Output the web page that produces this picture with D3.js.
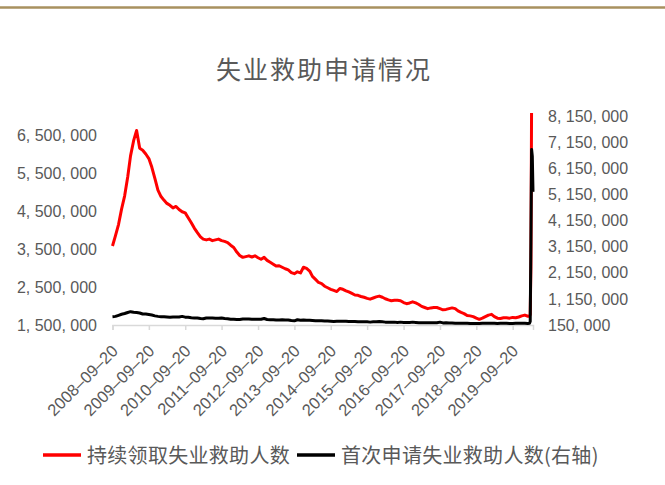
<!DOCTYPE html>
<html>
<head>
<meta charset="utf-8">
<script src="https://cdn.jsdelivr.net/npm/d3@7"></script>
<style>
  body { margin: 0; background: #fff; }
  text { fill: #595959; }
</style>
</head>
<body>
<script>
// monthly readings (20th of each month, from 2008-09-20), thousands of people
const startMonth = "2008-09-20";
const continuedClaims = [
  3580, 3850, 4150, 4550,
  4900, 5400, 5950, 6350, 6620, 6150, 6100, 6000, 5880, 5650, 5350, 5050,
  4880, 4780, 4700, 4650, 4580, 4620, 4540, 4480, 4450, 4320, 4190, 4050,
  3930, 3820, 3760, 3740, 3760, 3720, 3740, 3760, 3720, 3700, 3670, 3600,
  3540, 3420, 3330, 3280, 3300, 3320, 3290, 3320, 3270, 3230, 3280, 3200,
  3150, 3100, 3050, 3060, 3020, 2980, 2950, 2880, 2850, 2900, 2870, 3020,
  2990, 2920, 2780, 2700, 2620, 2590, 2520, 2480, 2440, 2410, 2380, 2460,
  2440, 2400, 2370, 2330, 2290, 2280, 2250, 2230, 2200, 2180, 2210, 2240,
  2260, 2230, 2190, 2160, 2140, 2150, 2150, 2140, 2090, 2060, 2080, 2110,
  2080, 2040, 1990, 1960, 1930, 1950, 1960, 1960, 1930, 1900, 1910, 1930,
  1950, 1930, 1870, 1830, 1800, 1750, 1740, 1720, 1680, 1650, 1680, 1720,
  1760, 1780, 1720, 1680, 1670, 1690, 1690, 1680, 1700, 1690, 1710, 1740,
  1760, 1730
];
const initialClaims = [
  470, 480, 520, 560,
  590, 630, 660, 640, 630, 610, 570, 570, 550, 530, 500, 480,
  470, 470, 460, 450, 460, 460, 455, 480, 450, 450, 430, 420,
  420, 400, 390, 420, 420, 420, 410, 410, 420, 400, 390, 370,
  370, 360, 360, 380, 380, 380, 370, 370, 370, 370, 400, 360,
  350, 350, 340, 340, 350, 340, 340, 320, 310, 350, 330, 340,
  330, 330, 320, 310, 310, 310, 300, 300, 290, 280, 290, 290,
  290, 290, 280, 280, 280, 270, 270, 270, 270, 260, 270, 270,
  280, 270, 260, 260, 260, 260, 250, 260, 250, 250, 250, 260,
  250, 240, 240, 240, 240, 240, 240, 240, 260, 230, 240, 230,
  230, 220, 220, 220, 220, 220, 210, 210, 210, 210, 220, 220,
  220, 220, 215, 210, 215, 220, 215, 210, 210, 215, 220, 220,
  215, 210
];
// weekly readings at the end of the series
const lastWeeks = ["2020-03-07", "2020-03-14", "2020-03-21", "2020-03-28", "2020-04-04", "2020-04-11"];
const continuedLast = [1730, 1780, 3030, 7450, 11980];
const initialLast = [215, 282, 3307, 6867, 6615, 5245];

const xTicks = ["2008-09-20", "2009-09-20", "2010-09-20", "2011-09-20", "2012-09-20", "2013-09-20",
  "2014-09-20", "2015-09-20", "2016-09-20", "2017-09-20", "2018-09-20", "2019-09-20"];
const leftTicks = [1500000, 2500000, 3500000, 4500000, 5500000, 6500000];
const rightTicks = [150000, 1150000, 2150000, 3150000, 4150000, 5150000, 6150000, 7150000, 8150000];

const title = "失业救助申请情况";
const seriesNames = ["持续领取失业救助人数", "首次申请失业救助人数(右轴)"];

const width = 665, height = 485;
const parse = d3.timeParse("%Y-%m-%d");
const fmtDate = d3.timeFormat("%Y–%m–%d");
const fmtNum = v => d3.format(",")(v).replace(/,/g, ", ");

const start = parse(startMonth);
const redData = continuedClaims.map((v, i) => ({ date: d3.timeMonth.offset(start, i), value: v * 1000 }))
  .concat(continuedLast.map((v, i) => ({ date: parse(lastWeeks[i]), value: v * 1000 })));
const blackData = initialClaims.map((v, i) => ({ date: d3.timeMonth.offset(start, i), value: v * 1000 }))
  .concat(initialLast.map((v, i) => ({ date: parse(lastWeeks[i]), value: v * 1000 })));

const x = d3.scaleTime()
  .domain([parse("2008-09-20"), parse("2020-04-11")])
  .range([112.5, 533]);
const yLeft = d3.scaleLinear().domain([1500000, 7000000]).range([325, 116]);
const yRight = d3.scaleLinear().domain([150000, 8150000]).range([325, 116]);

const svg = d3.select("body").append("svg")
  .attr("width", width)
  .attr("height", height)
  .style("font-family", "'Liberation Sans', Arial, sans-serif");

// top rule
svg.append("line")
  .attr("x1", 0).attr("x2", width)
  .attr("y1", 7.5).attr("y2", 7.5)
  .attr("stroke", "#a8915f")
  .attr("stroke-width", 2.5);

// title
svg.append("text")
  .attr("x", 324)
  .attr("y", 79)
  .attr("text-anchor", "middle")
  .style("font-family", "'Noto Sans CJK SC', sans-serif")
  .style("font-size", "25px")
  .style("letter-spacing", "2px")
  .text(title);

// x axis
const xAxis = d3.axisBottom(x)
  .tickValues(xTicks.map(parse))
  .tickSize(5)
  .tickFormat(fmtDate);

const gx = svg.append("g")
  .attr("transform", "translate(0,325)")
  .call(xAxis);
gx.select(".domain").attr("stroke", "#d9d9d9").attr("stroke-width", 1.5);
gx.selectAll(".tick line").attr("stroke", "#d9d9d9").attr("stroke-width", 1.5);
gx.selectAll(".tick text")
  .attr("y", 0)
  .attr("dy", "0.35em")
  .attr("transform", "translate(2,23) rotate(-45)")
  .style("text-anchor", "end")
  .style("font-size", "16.5px")
  .attr("fill", "#595959");

// left axis
const gl = svg.append("g")
  .attr("transform", "translate(97,0)")
  .call(d3.axisLeft(yLeft).tickValues(leftTicks).tickSize(0).tickPadding(0).tickFormat(fmtNum));
gl.select(".domain").remove();
gl.selectAll("text").style("font-size", "16px").attr("fill", "#595959");

// right axis
const gr = svg.append("g")
  .attr("transform", "translate(548,0)")
  .call(d3.axisRight(yRight).tickValues(rightTicks).tickSize(0).tickPadding(0).tickFormat(fmtNum));
gr.select(".domain").remove();
gr.selectAll("text").style("font-size", "16px").attr("fill", "#595959");

// plot clip
svg.append("clipPath").attr("id", "plot")
  .append("rect")
  .attr("x", 100).attr("y", 113)
  .attr("width", 440).attr("height", 220);

const plot = svg.append("g").attr("clip-path", "url(#plot)");

plot.append("path")
  .datum(redData)
  .attr("fill", "none")
  .attr("stroke", "#ff0000")
  .attr("stroke-width", 3)
  .attr("stroke-linejoin", "round")
  .attr("d", d3.line().x(d => x(d.date)).y(d => yLeft(d.value)));

plot.append("path")
  .datum(blackData)
  .attr("fill", "none")
  .attr("stroke", "#000000")
  .attr("stroke-width", 3)
  .attr("stroke-linejoin", "round")
  .attr("d", d3.line().x(d => x(d.date)).y(d => yRight(d.value)));

// legend
const legendColors = ["#ff0000", "#000000"];
const legendX = [43, 297];
const legend = svg.append("g");
seriesNames.forEach((name, i) => {
  legend.append("line")
    .attr("x1", legendX[i]).attr("x2", legendX[i] + 38)
    .attr("y1", 455).attr("y2", 455)
    .attr("stroke", legendColors[i])
    .attr("stroke-width", 3.5);
  legend.append("text")
    .attr("x", legendX[i] + 44)
    .attr("y", 463)
    .style("font-family", "'Noto Sans CJK SC', sans-serif")
    .style("font-size", "20px")
    .style("letter-spacing", "0.3px")
    .text(name);
});
</script>
</body>
</html>
